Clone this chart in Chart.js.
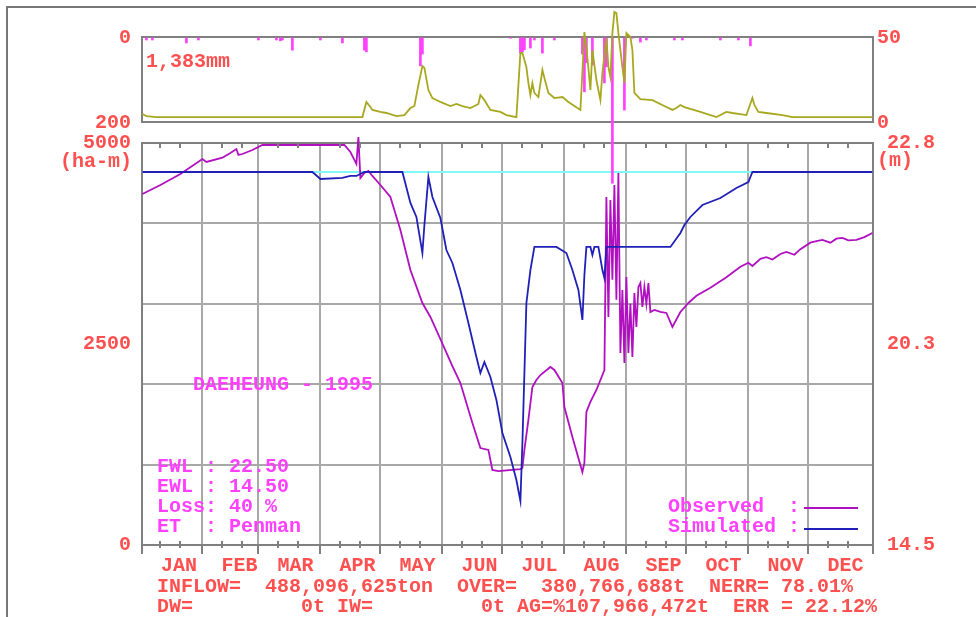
<!DOCTYPE html>
<html>
<head>
<meta charset="utf-8">
<title>DAEHEUNG - 1995</title>
<script src="https://cdn.jsdelivr.net/npm/chart.js@4.4.0/dist/chart.umd.min.js"></script>
<style>
  body { margin: 0; background: #fff; }
  #wrap { position: relative; width: 976px; height: 617px; overflow: hidden; background: #fff; }
  canvas { position: absolute; left: 0; top: 0; }
  .frame { position: absolute; left: 6px; top: 6px; width: 980px; height: 620px;
           border-left: 2px solid #777; border-top: 2px solid #777; }
  .t { position: absolute; font: bold 20px/20px "Liberation Mono", monospace; white-space: pre; }
  .red { color: #ff5050; }
  .mag { color: #ff40ff; }
  .key { position: absolute; width: 54px; height: 0; border-top: 2px solid; }
</style>
</head>
<body>
<div id="wrap">
  <div class="frame"></div>
  <canvas id="storage" width="976" height="617"></canvas>
  <canvas id="rain" width="976" height="617"></canvas>

  <div class="t red" style="left:146px;top:52px">1,383mm</div>
  <div class="t red" style="left:60px;top:152px">(ha-m)</div>
  <div class="t red" style="left:877px;top:151px">(m)</div>
  <div class="t mag" style="left:193px;top:375px">DAEHEUNG - 1995</div>
  <div class="t mag" style="left:157px;top:457px">FWL : 22.50
EWL : 14.50
Loss: 40 %
ET  : Penman</div>
  <div class="t mag" style="left:668px;top:497px">Observed  :
Simulated :</div>
  <div class="key" style="left:804px;top:507px;border-color:#b010c0"></div>
  <div class="key" style="left:804px;top:528px;border-color:#2020b8"></div>
  <div class="t red" style="left:157px;top:577px">INFLOW=  488,096,625ton  OVER=  380,766,688t  NERR= 78.01%
DW=         0t IW=         0t AG=%107,966,472t  ERR = 22.12%</div>
</div>

<script>
// months and day-of-year boundaries (Jan 1 = day 0)
const months = ['JAN', 'FEB', 'MAR', 'APR', 'MAY', 'JUN', 'JUL', 'AUG', 'SEP', 'OCT', 'NOV', 'DEC'];
const monthStart = [0, 31, 59, 90, 120, 151, 181, 212, 243, 273, 304, 334];
const X_MIN = 0.8, X_MAX = 366.3;

// reservoir storage, observed (ha-m)
const obsDays = [1, 10, 20, 31, 33, 41, 45, 48, 49, 51, 56, 61, 102, 105, 107, 108, 109, 110, 112, 114,
  116, 120, 125, 130, 135, 141, 145, 150, 156, 160, 166, 170, 174, 176, 179, 190, 191, 192, 194, 196,
  198, 200, 205, 207, 211, 212, 216, 221, 222, 223, 225, 228, 232, 233, 234, 235, 236, 237, 238, 239,
  240, 241, 242, 243, 244, 245, 246, 247, 248, 249, 250, 251, 252, 253, 254, 255, 257, 260, 263, 266,
  270, 274, 278, 285, 293, 300, 304, 306, 310, 313, 316, 320, 323, 327, 330, 335, 338, 341, 345, 348,
  351, 354, 358, 362, 366];
const obsStorage = [4366, 4478, 4615, 4801, 4764, 4817, 4876, 4925, 4851, 4863, 4913, 4975, 4975, 4888, 4789, 4740, 5075, 4565, 4627, 4652,
  4590, 4478, 4329, 3918, 3420, 3010, 2836, 2560, 2226, 2015, 1517, 1206, 1182, 933, 920, 945, 958, 1182, 1555, 1965,
  2052, 2114, 2214, 2177, 2015, 1716, 1343, 908, 1020, 1654, 1779, 1928, 2177, 4328, 2836, 4290, 3300, 4478, 3050, 4627,
  2388, 3172, 2264, 3333, 2388, 3000, 2338, 3134, 2712, 3209, 3259, 2960, 3209, 3000, 3259, 2898, 2923, 2900, 2886, 2712,
  2898, 3010, 3100, 3200, 3330, 3460, 3510, 3470, 3560, 3580, 3550, 3620, 3645, 3610, 3680, 3760, 3780, 3795, 3760, 3810,
  3820, 3790, 3795, 3830, 3880];

// reservoir storage, simulated (ha-m)
const simDays = [1, 86, 90, 101, 105, 108, 112, 131, 135, 138, 141, 142, 144, 146, 150, 153, 156, 160, 164, 168,
  170, 172, 175, 178, 181, 185, 188, 190, 191, 192, 193, 195, 197, 208, 213, 216, 219, 221, 222, 223,
  225, 226, 227, 229, 231, 232, 233, 265, 270, 272, 275, 281, 290, 298, 304, 306, 366];
const simStorage = [4639, 4639, 4552, 4565, 4590, 4590, 4639, 4639, 4254, 4080, 3632, 3980, 4577, 4328, 4067, 3669, 3508, 3172, 2761, 2338,
  2139, 2276, 2090, 1804, 1393, 1095, 808, 547, 1269, 2139, 3010, 3420, 3707, 3707, 3632, 3420, 3172, 2799, 3358, 3707,
  3707, 3607, 3707, 3707, 3420, 3321, 3707, 3707, 3881, 3980, 4080, 4229, 4316, 4440, 4515, 4639, 4639];

// full water level (22.50 m) as storage
const fwlDays = [1, 366];
const fwlStorage = [4639, 4639];

// daily rainfall (mm)
const rainDays = [3, 6, 23, 29, 59, 68, 70, 71, 76, 90, 101, 112, 113, 140, 141, 185, 190, 191, 192, 195,
  197, 201, 207, 221, 222, 223, 226, 232, 233, 236, 242, 246, 250, 253, 267, 271, 290, 299, 305];
const rainMm = [7, 7, 14, 7, 7, 7, 9, 7, 31, 7, 14, 31, 35, 68, 40, 3, 38, 35, 30, 26,
  7, 38, 7, 40, 129, 60, 66, 108, 70, 344, 172, 3, 12, 7, 7, 7, 7, 7, 21];

// daily inflow
const inflowDays = [1, 3, 8, 111, 113, 115, 116, 120, 123, 128, 132, 135, 137, 139, 141, 142, 144, 146, 150, 155,
  158, 161, 165, 169, 170, 172, 175, 180, 183, 188, 189, 190, 191, 193, 194, 195, 196, 197, 199, 201,
  202, 204, 207, 211, 214, 220, 221, 222, 223, 225, 226, 228, 230, 231, 233, 234, 235, 236, 237, 238,
  239, 241, 242, 243, 245, 246, 247, 250, 256, 263, 266, 268, 270, 272, 280, 288, 293, 296, 303, 306,
  307, 309, 313, 321, 326, 366];
const inflowVal = [4.7, 3.5, 2.9, 2.9, 11.8, 8.8, 7.1, 5.9, 5.3, 3.5, 4.1, 8.2, 9.4, 21.8, 32.9, 31.8, 18.8, 14.1, 11.8, 9.4,
  10.6, 9.4, 8.2, 10.6, 15.9, 12.9, 7.1, 5.9, 4.1, 2.9, 21.8, 40.6, 40.6, 32.3, 22.9, 15.9, 22.9, 17.1, 14.7, 30.6,
  25.9, 17.1, 14.1, 14.7, 11.8, 7.1, 29.4, 52.9, 44.1, 18.8, 42.3, 24.7, 12.9, 28.8, 49.4, 32.3, 26.5, 52.3, 64.7, 64.1,
  52.3, 32.3, 22.9, 52.3, 50.0, 42.3, 17.1, 13.5, 12.9, 8.8, 7.1, 8.2, 10.0, 8.8, 5.9, 2.9, 5.9, 5.3, 4.1, 14.1,
  10.0, 5.9, 5.3, 4.1, 2.9, 2.9];

// axis ticks and labels
const storageTicks = [0, 1000, 2000, 2500, 3000, 4000, 5000];
const storageLabels = ['0', '2500', '5000'];
const levelTicks = [0, 2500, 5000];
const levelLabels = ['14.5', '20.3', '22.8'];
const rainTicks = [0, 200];
const inflowTicks = [0, 50];

const RED = '#ff5050', GRID = '#a8a8a8', EDGE = '#808080';
const C_OBS = '#b010c0', C_SIM = '#2020b8', C_FWL = '#80f8f8', C_RAIN = '#ff40ff', C_INF = '#a8a820';

Chart.defaults.font.family = '"Liberation Mono", monospace';
Chart.defaults.font.size = 20;
Chart.defaults.font.weight = 'bold';
Chart.defaults.color = RED;

const pts = (xs, ys) => xs.map((x, i) => ({ x: x, y: ys[i] }));

// x ticks: month starts (major, labelled) plus 11th and 21st of each month
const dayTicks = [];
monthStart.forEach((s, i) => {
  dayTicks.push({ value: Math.max(s, X_MIN), major: true, name: months[i] });
  dayTicks.push({ value: s + 10, major: false }, { value: s + 20, major: false });
});
dayTicks.push({ value: X_MAX, major: true, name: '' });

// short dekad marks inside the plot, top and bottom
const dekadMarks = {
  id: 'dekadMarks',
  afterDatasetsDraw(chart) {
    const xs = chart.scales.x, a = chart.chartArea, ctx = chart.ctx;
    ctx.save();
    ctx.strokeStyle = EDGE;
    ctx.lineWidth = 2;
    xs.ticks.forEach(t => {
      if (t.major) return;
      const px = Math.round(xs.getPixelForValue(t.value));
      ctx.beginPath();
      ctx.moveTo(px, a.top); ctx.lineTo(px, a.top + 5);
      ctx.moveTo(px, a.bottom - 4); ctx.lineTo(px, a.bottom + 3);
      ctx.stroke();
    });
    ctx.restore();
  }
};

new Chart(document.getElementById('storage'), {
  type: 'line',
  data: {
    datasets: [
      { data: pts(simDays, simStorage), borderColor: C_SIM, borderWidth: 1.8, order: 1 },
      { data: pts(obsDays, obsStorage), borderColor: C_OBS, borderWidth: 1.8, order: 2, clip: false },
      { data: pts(fwlDays, fwlStorage), borderColor: C_FWL, borderWidth: 2, order: 3 }
    ]
  },
  options: {
    responsive: false,
    animation: false,
    devicePixelRatio: 1,
    layout: { padding: { top: 143, left: 0, right: 0, bottom: 0 } },
    elements: { point: { radius: 0 }, line: { tension: 0 } },
    plugins: { legend: { display: false }, tooltip: { enabled: false } },
    scales: {
      x: {
        type: 'linear', min: X_MIN, max: X_MAX,
        afterBuildTicks: s => { s.ticks = dayTicks.map(t => Object.assign({}, t)); },
        afterFit: s => { s.height = 72; },
        grid: {
          color: c => (c.tick && c.tick.major ? GRID : 'rgba(0,0,0,0)'),
          tickColor: c => (c.tick && c.tick.major ? EDGE : 'rgba(0,0,0,0)'),
          lineWidth: 2, tickLength: 9
        },
        border: { color: EDGE, width: 2 },
        ticks: {
          autoSkip: false, maxRotation: 0, minRotation: 0, padding: 0, labelOffset: 37,
          callback: (v, i) => dayTicks[i].name || ''
        }
      },
      y: {
        position: 'left', min: 0, max: 5000,
        afterBuildTicks: s => { s.ticks = storageTicks.map(v => ({ value: v })); },
        afterFit: s => { s.width = 142; },
        grid: {
          color: c => (c.tick.value === 2500 ? 'rgba(0,0,0,0)' : (c.tick.value % 5000 === 0 ? EDGE : GRID)),
          lineWidth: 2, drawTicks: false
        },
        border: { color: EDGE, width: 2 },
        ticks: {
          autoSkip: false, padding: 11,
          callback: v => storageLabels[[0, 2500, 5000].indexOf(v)] || ''
        }
      },
      yr: {
        position: 'right', min: 0, max: 5000,
        afterBuildTicks: s => { s.ticks = levelTicks.map(v => ({ value: v })); },
        afterFit: s => { s.width = 103; },
        grid: { drawOnChartArea: false, drawTicks: false },
        border: { color: EDGE, width: 2 },
        ticks: { autoSkip: false, padding: 14, callback: (v, i) => levelLabels[i] }
      }
    }
  },
  plugins: [dekadMarks]
});

new Chart(document.getElementById('rain'), {
  type: 'bar',
  data: {
    datasets: [
      { type: 'line', data: pts(inflowDays, inflowVal), yAxisID: 'yIn', borderColor: C_INF, borderWidth: 1.8,
        pointRadius: 0, tension: 0, clip: false, order: 1 },
      { type: 'bar', data: pts(rainDays, rainMm), yAxisID: 'yRain', backgroundColor: C_RAIN,
        barThickness: 2, clip: false, order: 2 }
    ]
  },
  options: {
    responsive: false,
    animation: false,
    devicePixelRatio: 1,
    layout: { padding: { top: 37, left: 0, right: 0, bottom: 495 } },
    plugins: { legend: { display: false }, tooltip: { enabled: false } },
    scales: {
      x: { type: 'linear', min: X_MIN, max: X_MAX, offset: false, display: false },
      yRain: {
        position: 'left', min: 0, max: 200, reverse: true,
        afterBuildTicks: s => { s.ticks = rainTicks.map(v => ({ value: v })); },
        afterFit: s => { s.width = 142; },
        grid: { color: EDGE, lineWidth: 2, drawTicks: false },
        border: { color: EDGE, width: 2 },
        ticks: { autoSkip: false, padding: 11, labelOffset: 1 }
      },
      yIn: {
        position: 'right', min: 0, max: 50,
        afterBuildTicks: s => { s.ticks = inflowTicks.map(v => ({ value: v })); },
        afterFit: s => { s.width = 103; },
        grid: { drawOnChartArea: false, drawTicks: false },
        border: { color: EDGE, width: 2 },
        ticks: { autoSkip: false, padding: 4, labelOffset: 1 }
      }
    }
  }
});
</script>
</body>
</html>
